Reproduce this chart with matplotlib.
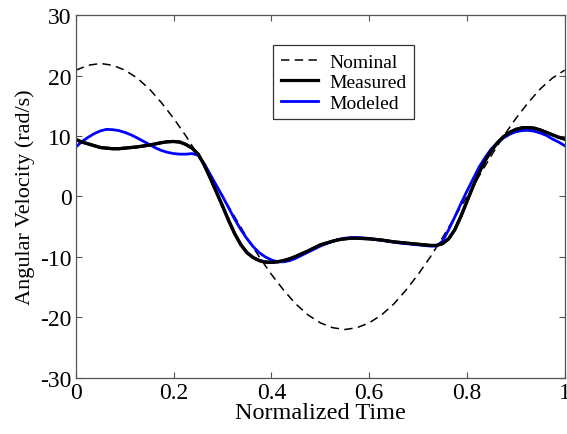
import matplotlib
matplotlib.use("Agg")
import matplotlib.pyplot as plt
import numpy as np

# values
t_nom = np.linspace(0, 1, 41)          # every 0.025
t = np.linspace(0, 1, 81)              # every 0.0125

nominal = [20.9, 21.7, 22.0, 21.7, 20.9, 19.6, 17.8, 15.5, 12.9, 10.0,
           6.8, 3.4, 0.0, -3.4, -6.8, -10.0, -12.9, -15.5, -17.8, -19.6,
           -20.9, -21.7, -22.0, -21.7, -20.9, -19.6, -17.8, -15.5, -12.9, -10.0,
           -6.8, -3.4, 0.0, 3.4, 6.8, 10.0, 12.9, 15.5, 17.8, 19.6, 20.9]

measured = [9.4, 9.0, 8.7, 8.4, 8.1, 8.0, 7.9, 7.9, 8.0, 8.1,
            8.2, 8.35, 8.5, 8.7, 8.9, 9.05, 9.1, 9.0, 8.6, 8.0,
            7.0, 5.2, 3.0, 0.7, -1.6, -4.0, -6.2, -8.0, -9.3, -10.1,
            -10.6, -10.85, -10.9, -10.8, -10.6, -10.3, -9.9, -9.45, -9.0, -8.5,
            -8.0, -7.7, -7.4, -7.15, -7.0, -6.9, -6.9, -6.95, -7.0, -7.1,
            -7.2, -7.35, -7.5, -7.6, -7.7, -7.8, -7.9, -8.0, -8.1, -8.1,
            -7.8, -7.0, -5.5, -3.3, -0.8, 1.7, 4.0, 6.0, 7.6, 8.9,
            9.9, 10.6, 11.1, 11.35, 11.4, 11.3, 11.0, 10.6, 10.2, 9.8, 9.5]

modeled = [8.2, 9.1, 9.8, 10.4, 10.85, 11.1, 11.05, 10.9, 10.6, 10.2,
           9.7, 9.15, 8.6, 8.05, 7.6, 7.3, 7.1, 7.0, 7.0, 7.1,
           6.8, 5.4, 3.6, 1.8, 0.0, -1.9, -3.8, -5.5, -7.0, -8.3,
           -9.3, -10.0, -10.5, -10.8, -10.8, -10.6, -10.2, -9.7, -9.2, -8.7,
           -8.2, -7.8, -7.4, -7.1, -6.9, -6.8, -6.8, -6.85, -6.95, -7.1,
           -7.25, -7.4, -7.55, -7.7, -7.8, -7.9, -8.0, -8.1, -8.2, -8.2,
           -7.4, -5.5, -3.4, -1.2, 0.9, 2.9, 4.9, 6.5, 7.9, 8.9,
           9.7, 10.3, 10.7, 10.9, 10.95, 10.8, 10.5, 10.1, 9.5, 9.0, 8.4]

plt.rcParams['font.family'] = ['Liberation Serif', 'DejaVu Serif']
plt.rcParams['axes.unicode_minus'] = False

fig = plt.figure(figsize=(5.67, 4.35), dpi=100)
ax = fig.add_axes([0.134, 0.129, 0.862, 0.834])

ax.plot(t_nom, nominal, color="black", linewidth=1.1, dashes=(5.5, 3.5), label="Nominal")
ax.plot(t, measured, color="black", linewidth=2.3, label="Measured")
ax.plot(t, modeled, color="#0000ff", linewidth=2.0, label="Modeled")
# black measured line drawn again above the blue one
ax.plot(t, measured, color="black", linewidth=2.3, zorder=2.5)

ax.set_xlim(0, 1)
ax.set_ylim(-30, 30)
ax.set_xticks([0, 0.2, 0.4, 0.6, 0.8, 1])
ax.set_xticklabels(["0", "0.2", "0.4", "0.6", "0.8", "1"])
ax.set_yticks([-30, -20, -10, 0, 10, 20, 30])
ax.tick_params(direction="in", top=True, right=True, length=4, width=0.8,
               labelsize=17, pad=3, color="#555555")
for s in ax.spines.values():
    s.set_color("#555555")
    s.set_linewidth(0.9)

ax.set_xlabel("Normalized Time", fontsize=17.5, labelpad=-1)
ax.set_ylabel("Angular Velocity (rad/s)", fontsize=16, labelpad=4)

leg = ax.legend(loc="upper left", bbox_to_anchor=(0.403, 0.917), borderaxespad=0,
                fontsize=14, fancybox=False, framealpha=1, edgecolor="#333333",
                handlelength=1.9, handletextpad=0.6, labelspacing=0.15,
                borderpad=0.4)
leg.get_frame().set_linewidth(0.9)

fig.savefig("out.png", dpi=100)
